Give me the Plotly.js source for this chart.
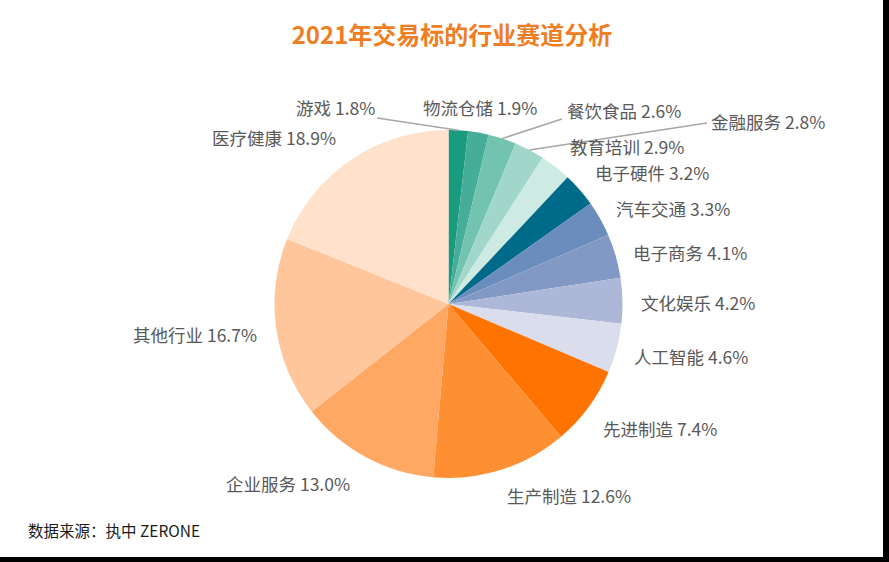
<!DOCTYPE html>
<html>
<head>
<meta charset="utf-8">
<script src="https://cdn.plot.ly/plotly-3.0.1.min.js"></script>
<style>
  html, body { margin: 0; padding: 0; background: #000; }
  #chart { width: 883px; height: 557px; background: #fff; }
</style>
</head>
<body>
<div id="chart"></div>
<script>
// ---- data ----
const categories = ['游戏', '物流仓储', '餐饮食品', '金融服务', '教育培训', '电子硬件', '汽车交通',
  '电子商务', '文化娱乐', '人工智能', '先进制造', '生产制造', '企业服务', '其他行业', '医疗健康'];
const shares = [1.8, 1.9, 2.6, 2.8, 2.9, 3.2, 3.3, 4.1, 4.2, 4.6, 7.4, 12.6, 13.0, 16.7, 18.9];

// ---- styles ----
const sliceColors = ['#1a9a7f', '#46ad98', '#73c3b1', '#a1d7ca', '#cdeae3', '#006a8a', '#6a8dbd',
  '#8299c6', '#adb8d8', '#d9ddec', '#ff7300', '#ff8f33', '#ffa864', '#ffc59b', '#ffe1cc'];

const W = 883, H = 557;
const cx = 448.5, cy = 304, R = 174;

// label centres in pixels (layout only)
const labelPos = [
  [335, 108], [480, 108], [624, 110], [768, 121], [627, 147], [652, 172], [673, 208],
  [690, 252], [698, 302], [691, 356], [660, 428], [569, 495], [288, 483], [195, 334], [274, 137]
];
// leader lines: [slice index, label-end x, label-end y]
const leaders = [[0, 377, 118], [2, 562, 119], [3, 707, 123]];

const px = x => x / W, py = y => 1 - y / H;

// slice mid-angle from the data (clockwise from 12 o'clock)
const total = shares.reduce((a, b) => a + b, 0);
function edgePoint(i) {
  let cum = 0;
  for (let k = 0; k < i; k++) cum += shares[k];
  const mid = (cum + shares[i] / 2) / total * 2 * Math.PI;
  return [cx + R * Math.sin(mid), cy - R * Math.cos(mid)];
}

const annotations = categories.map((c, i) => ({
  text: c + ' ' + shares[i].toFixed(1) + '%',
  x: px(labelPos[i][0]), y: py(labelPos[i][1]),
  xref: 'paper', yref: 'paper', xanchor: 'center', yanchor: 'middle',
  showarrow: false,
  font: { family: 'Noto Sans CJK SC, sans-serif', size: 17.5, color: '#595959' }
}));
annotations.push({
  text: '数据来源：执中 ZERONE',
  x: px(26), y: py(530), xref: 'paper', yref: 'paper', xanchor: 'left', yanchor: 'middle',
  showarrow: false,
  font: { family: 'Noto Sans CJK SC, sans-serif', size: 15.5, color: '#1a1a1a' }
});

const shapes = leaders.map(([i, lx, ly]) => {
  const [ex, ey] = edgePoint(i);
  return {
    type: 'line', xref: 'paper', yref: 'paper',
    x0: px(lx), y0: py(ly), x1: px(ex), y1: py(ey),
    line: { color: '#a6a6a6', width: 1.5 }
  };
});

const trace = {
  type: 'pie',
  labels: categories,
  values: shares,
  sort: false,
  direction: 'clockwise',
  rotation: 0,
  textinfo: 'none',
  hoverinfo: 'label+percent',
  marker: { colors: sliceColors, line: { width: 0 } },
  domain: { x: [px(cx - R), px(cx + R)], y: [py(cy + R), py(cy - R)] },
  showlegend: false
};

const layout = {
  width: W, height: H,
  margin: { l: 0, r: 0, t: 0, b: 0 },
  paper_bgcolor: '#ffffff',
  showlegend: false,
  title: {
    text: '<b>2021年交易标的行业赛道分析</b>',
    x: 452 / W, xanchor: 'center', xref: 'container',
    y: 1 - 36 / H, yanchor: 'middle', yref: 'container',
    font: { family: 'Noto Sans CJK SC, sans-serif', size: 24, color: '#ef7d22' }
  },
  annotations: annotations,
  shapes: shapes
};

Plotly.newPlot('chart', [trace], layout, { displayModeBar: false, staticPlot: true });
</script>
</body>
</html>
